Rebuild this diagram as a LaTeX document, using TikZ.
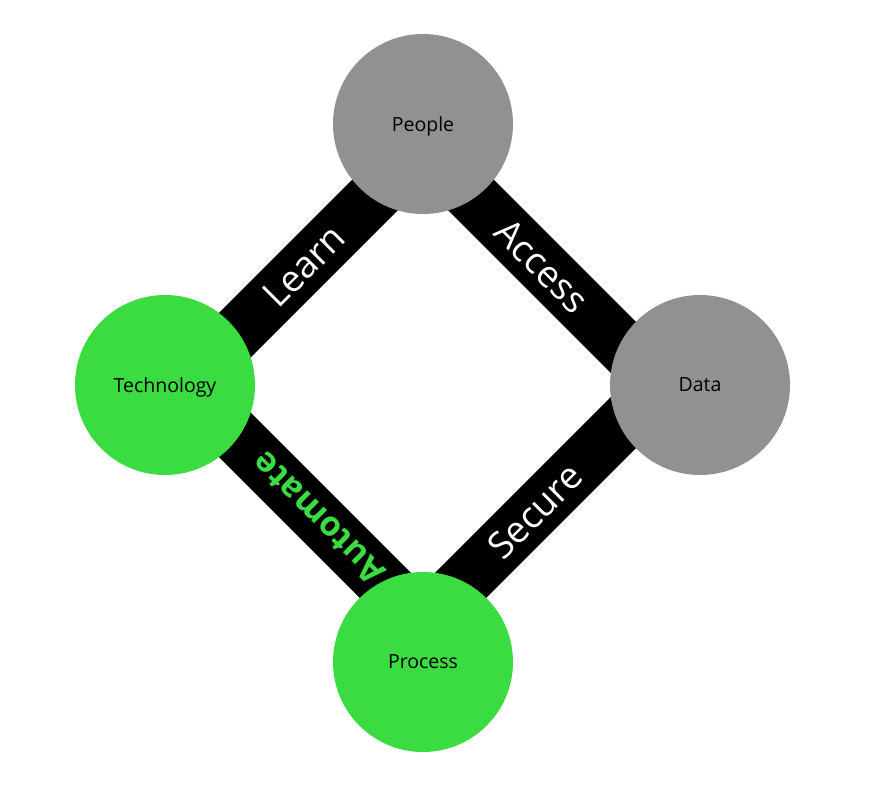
\documentclass[tikz,border=0pt]{standalone}
\usepackage{fontspec}
\setmainfont{Open Sans}
\definecolor{cgray}{RGB}{145,145,145}
\definecolor{cgreen}{RGB}{59,219,66}
\tikzset{
  hub/.style={circle, minimum size=180pt, inner sep=0pt, font=\fontsize{19.5}{22}\selectfont, text=black, text depth=0pt},
  grayhub/.style={hub, fill=cgray},
  greenhub/.style={hub, fill=cgreen},
  bar/.style={line width=54pt, black},
  barlabel/.style={font=\fontsize{37}{40}\selectfont, text=white, inner sep=0pt},
  greenlabel/.style={font=\fontsize{34}{38}\selectfont\bfseries, text=cgreen, inner sep=0pt}
}
\begin{document}
\begin{tikzpicture}[x=1pt,y=-1pt]
\useasboundingbox[fill=white] (0,0) rectangle (883,793);
\coordinate (bp) at (423,147);
\coordinate (bd) at (661,385);
\coordinate (bq) at (423,623);
\coordinate (bt) at (185,385);
\draw[bar] (bt) -- node[barlabel, rotate=45] {Learn} (bp);
\draw[bar] (bp) -- node[barlabel, rotate=-45] {Access} (bd);
\draw[bar] (bd) -- node[barlabel, rotate=45, pos=0.53] {Secure} (bq);
\draw[bar] (bt) -- node[greenlabel, rotate=135, pos=0.56] {Automate} (bq);
\node[grayhub] (people) at (423,124) {People};
\node[grayhub] (data) at (700,385) {Data};
\node[greenhub] (tech) at (165,385) {Technology};
\node[greenhub] (process) at (423,662) {Process};
\end{tikzpicture}
\end{document}
